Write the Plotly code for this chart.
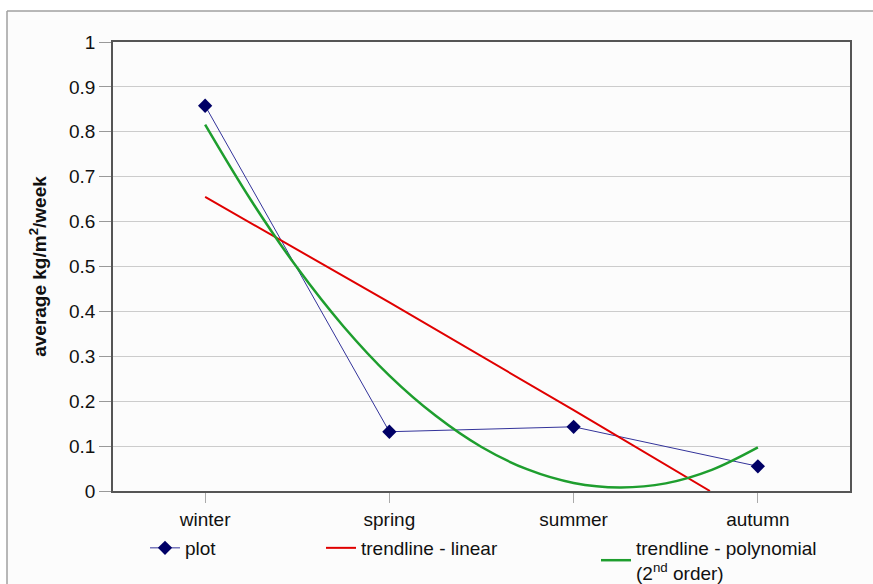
import plotly.graph_objects as go

categories = ["winter", "spring", "summer", "autumn"]
cat_pos = [1, 2, 3, 4]
plot_values = [0.858, 0.132, 0.143, 0.055]

# linear trendline (clipped at 0)
lin_x = [1, 2, 3, 3.74]
lin_y = [0.655, 0.42, 0.18, 0.0]

# polynomial trendline
poly_x = [1, 1.25, 1.5, 1.75, 2, 2.25, 2.5, 2.75, 3, 3.25, 3.5, 3.75, 4]
poly_y = [0.816, 0.647, 0.497, 0.367, 0.257, 0.168, 0.098, 0.048, 0.018, 0.008, 0.017, 0.047, 0.097]

y_ticks = [0, 0.1, 0.2, 0.3, 0.4, 0.5, 0.6, 0.7, 0.8, 0.9, 1]
y_tick_text = ["0", "0.1", "0.2", "0.3", "0.4", "0.5", "0.6", "0.7", "0.8", "0.9", "1"]

FONT = "Liberation Sans, Arial, sans-serif"
FS = 19

fig = go.Figure()
fig.add_trace(go.Scatter(
    x=cat_pos, y=plot_values, mode="lines+markers", name="plot",
    line=dict(color="#33339a", width=1),
    marker=dict(symbol="diamond", size=11, color="#000066"),
    legend="legend"))
fig.add_trace(go.Scatter(
    x=lin_x, y=lin_y, mode="lines", name="trendline - linear",
    line=dict(color="#e00000", width=2), legend="legend2"))
fig.add_trace(go.Scatter(
    x=poly_x, y=poly_y, mode="lines", name="trendline - polynomial<br>(2<sup>nd</sup> order)",
    line=dict(color="#1e9e2e", width=2.5, shape="spline"), legend="legend3"))

# body margin removed via post_script, so figure sits at (0, 0)
W, H = 873, 584
L, T = 113, 42
R = W - 850
B = H - 491
pw, ph = W - L - R, H - T - B


def px(x):
    return (x - L) / pw


def py(y):
    return (H - B - y) / ph


leg_common = dict(orientation="h", yanchor="top", xanchor="left",
                  bgcolor="rgba(0,0,0,0)", font=dict(family=FONT, size=FS, color="#111"),
                  tracegroupgap=0)

border = dict(color="#a0a0a0", width=1.5)

fig.update_layout(
    width=W, height=H,
    margin=dict(l=L, r=R, t=T, b=B, autoexpand=False),
    paper_bgcolor="white", plot_bgcolor="#fcfcfc",
    font=dict(family=FONT, size=FS, color="#111"),
    showlegend=True,
    legend=dict(x=px(145), y=py(529), **leg_common),
    legend2=dict(x=px(321), y=py(529), **leg_common),
    legend3=dict(x=px(596), y=py(529), **leg_common),
    xaxis=dict(range=[0.5, 4.5], tickvals=cat_pos, ticktext=categories,
               showgrid=False, zeroline=False, ticks="outside", ticklen=10,
               tickcolor="#aaaaaa", showline=True, linecolor="#555555", linewidth=1.5,
               mirror=True, tickfont=dict(size=FS, family=FONT, color="#111")),
    yaxis=dict(range=[0, 1], tickvals=y_ticks, ticktext=y_tick_text,
               showgrid=True, gridcolor="#cccccc", gridwidth=1, zeroline=False,
               ticks="outside", ticklen=12, tickcolor="#999999",
               showline=True, linecolor="#555555", linewidth=1.5, mirror=True,
               tickfont=dict(size=FS, family=FONT, color="#111"),
               title=dict(text="<b>average kg/m<sup>2</sup>/week</b>",
                          font=dict(size=FS, family=FONT, color="#111"), standoff=17)),
    shapes=[
        dict(type="rect", xref="paper", yref="paper", layer="below",
             x0=px(7), x1=px(900), y0=py(620), y1=py(11),
             fillcolor="#fcfcfc", line=dict(width=0)),
        dict(type="line", xref="paper", yref="paper", layer="below",
             x0=px(7), x1=px(900), y0=py(11), y1=py(11), line=border),
        dict(type="line", xref="paper", yref="paper", layer="below",
             x0=px(7), x1=px(7), y0=py(11), y1=py(620), line=border),
    ],
)

fig.write_html("out.html",
               config={"displayModeBar": False},
               post_script="document.body.style.margin='0';document.body.style.overflow='hidden';")
